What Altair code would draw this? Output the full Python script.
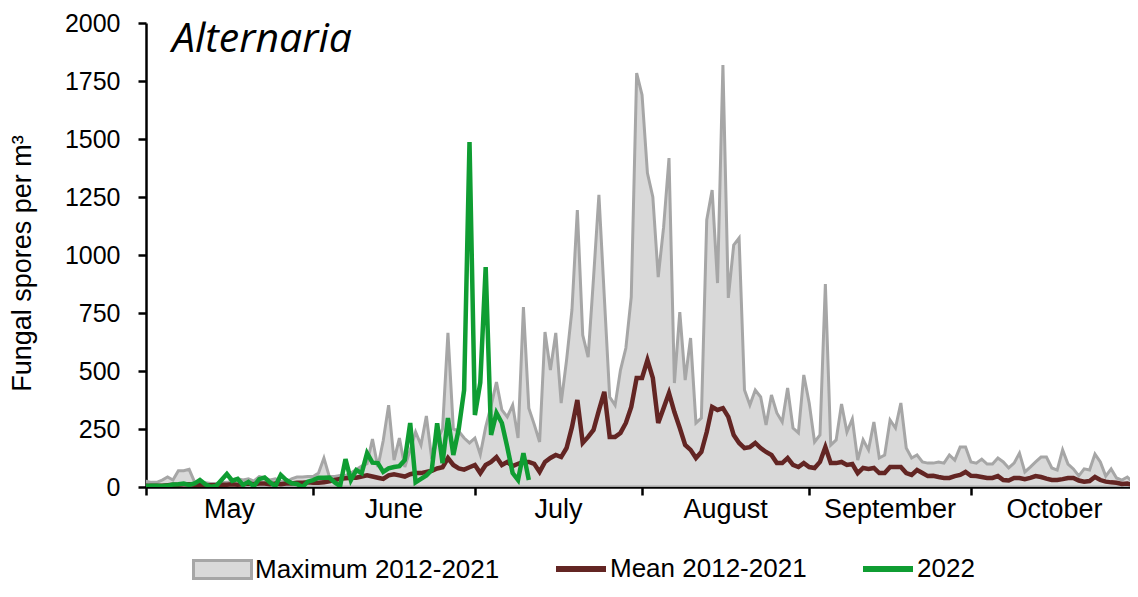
import altair as alt
import pandas as pd

# ---- data ----
month_names = ["May", "June", "July", "August", "September", "October"]
month_starts = [0, 31, 61, 92, 123, 153, 184]

max_2012_2021 = [
    25, 20, 20, 30, 43, 30, 70, 70, 76, 22, 20, 18, 15, 15, 18, 20, 25, 35, 30, 35,
    25, 45, 40, 30, 35, 25, 20, 35, 43, 43, 45,
    45, 60, 125, 45, 45, 50, 50, 60, 75, 90, 100, 207, 86, 200, 353, 116, 211, 86, 160,
    237, 181, 306, 120, 200, 250, 664, 250, 240, 211, 190,
    211, 140, 258, 350, 452, 332, 302, 353, 211, 776, 340, 270, 194, 668, 504, 664, 362,
    547, 763, 1194, 655, 560, 900, 1259, 820, 388, 353, 504, 599, 819, 1784,
    1690, 1353, 1250, 905, 1120, 1418, 448, 754, 461, 642, 276, 297, 1151, 1280, 879,
    1819, 815, 1043, 1073, 418, 353, 418, 388, 267, 397, 319, 280, 427, 254, 233, 483,
    362, 194, 224, 875, 181, 203, 358, 237, 293, 116, 203, 160, 280, 125, 138, 289, 254,
    362, 168, 125, 138, 108, 103, 103, 108, 103, 138, 116, 172, 172,
    108, 103, 120, 99, 99, 125, 108, 82, 103, 146, 65, 86, 108, 129, 129, 82, 73, 160,
    99, 78, 48, 78, 73, 142, 108, 47, 78, 39, 30, 43, 22,
]

mean_2012_2021 = [
    5, 5, 5, 5, 8, 10, 10, 12, 12, 10, 8, 8, 8, 8, 10, 10, 12, 10, 12, 15,
    12, 15, 15, 12, 15, 12, 15, 15, 18, 18, 20,
    18, 18, 20, 25, 30, 35, 38, 40, 40, 45, 50, 45, 40, 35, 50, 55, 50, 45, 55,
    60, 60, 65, 70, 80, 85, 125, 95, 80, 75, 85,
    95, 60, 95, 108, 129, 95, 108, 90, 100, 108, 108, 100, 65, 108, 125, 138, 129,
    168, 258, 375, 190, 216, 246, 330, 410, 216, 216, 233, 276, 345, 470,
    470, 547, 470, 276, 340, 405, 323, 254, 181, 160, 125, 151, 237, 345, 332,
    340, 302, 224, 190, 168, 172, 190, 168, 151, 138, 103, 103, 125, 95, 86, 103,
    86, 82, 108, 172, 103, 103, 108, 95, 99, 60, 82, 78, 82, 60, 60, 86, 86,
    86, 60, 52, 73, 60, 47, 48, 43, 39, 39, 47, 52, 65,
    48, 47, 43, 39, 39, 47, 30, 28, 39, 39, 34, 39, 47, 43, 36, 30, 30, 34,
    39, 39, 28, 23, 26, 43, 30, 23, 20, 18, 13, 15, 9,
]

season_2022 = [
    4, 5, 5, 4, 6, 11, 12, 15, 9, 15,
    30, 12, 1, 4, 30, 56, 27, 35, 9, 22,
    4, 34, 41, 20, 4, 52, 30, 16, 13, 0,
    23, 30, 40, 40, 41, 20, 4, 120, 30, 73,
    60, 146, 105, 103, 65, 80, 86, 90, 116, 276,
    20, 35, 50, 73, 275, 103, 297, 138, 250, 418,
    1487, 310, 450, 948, 224, 319, 276, 172, 60, 30,
    146, 30,
]

y_ticks = [0, 250, 500, 750, 1000, 1250, 1500, 1750, 2000]

# ---- tables ----
df_max = pd.DataFrame({"day": list(range(len(max_2012_2021))), "value": max_2012_2021,
                       "series": "Maximum 2012-2021"})
df_mean = pd.DataFrame({"day": list(range(len(mean_2012_2021))), "value": mean_2012_2021,
                        "series": "Mean 2012-2021"})
df_22 = pd.DataFrame({"day": list(range(len(season_2022))), "value": season_2022,
                      "series": "2022"})
df_months = pd.DataFrame({
    "month": month_names,
    "mid": [(a + b) / 2 for a, b in zip(month_starts[:-1], month_starts[1:])],
})
df_title = pd.DataFrame({"t": ["Alternaria"]})

W, H = 984, 464
X_END = 182.5
FONT = "Liberation Sans"

xscale = alt.Scale(domain=[0, X_END], nice=False, zero=False)
yscale = alt.Scale(domain=[0, 2000], nice=False)

xaxis = alt.Axis(values=month_starts, labels=False, title=None, grid=False,
                 tickSize=8, tickWidth=2.5, tickColor="black",
                 domainColor="black", domainWidth=2.5)
yaxis = alt.Axis(values=y_ticks, format="d", title="Fungal spores per m³", grid=False,
                 tickSize=8, tickWidth=2.5, tickColor="black",
                 domainColor="black", domainWidth=2.5,
                 labelFont=FONT, labelFontSize=25, labelColor="black", labelPadding=18,
                 titleFont=FONT, titleFontSize=27, titleFontWeight="normal",
                 titleColor="black", titlePadding=28, titleY=240, titleAlign="center")

area = alt.Chart(df_max).mark_area(stroke="#a6a6a6", strokeWidth=3, opacity=1,
                                   clip=True).encode(
    x=alt.X("day:Q", scale=xscale, axis=xaxis),
    y=alt.Y("value:Q", scale=yscale, axis=yaxis),
    fill=alt.Fill("series:N",
                  scale=alt.Scale(domain=["Maximum 2012-2021"], range=["#d9d9d9"]),
                  legend=alt.Legend(orient="none", legendX=46, legendY=516, title=None,
                                    symbolType="M-1,-0.31H1V0.31H-1Z", symbolSize=3364,
                                    symbolStrokeColor="#a6a6a6", symbolStrokeWidth=3,
                                    symbolFillColor="#d9d9d9",
                                    labelFont=FONT, labelFontSize=26, labelColor="black",
                                    labelOffset=2, labelLimit=400)),
)

stroke_scale = alt.Scale(domain=["Mean 2012-2021", "2022"], range=["#632523", "#0f9d32"])
stroke_legend = alt.Legend(orient="none", legendX=407, legendY=518, title=None,
                           direction="horizontal", symbolType="stroke", symbolSize=2500,
                           symbolStrokeWidth=6, labelFont=FONT, labelFontSize=26,
                           labelColor="black", labelOffset=1, labelLimit=400,
                           columnPadding=44)

mean_line = alt.Chart(df_mean).mark_line(strokeWidth=4.5, clip=True).encode(
    x=alt.X("day:Q", scale=xscale),
    y=alt.Y("value:Q", scale=yscale),
    stroke=alt.Stroke("series:N", scale=stroke_scale, legend=stroke_legend),
)
line_2022 = alt.Chart(df_22).mark_line(strokeWidth=4.5, clip=True).encode(
    x=alt.X("day:Q", scale=xscale),
    y=alt.Y("value:Q", scale=yscale),
    stroke=alt.Stroke("series:N", scale=stroke_scale, legend=stroke_legend),
)

months = alt.Chart(df_months).mark_text(baseline="alphabetic", align="center",
                                         fontSize=27, font=FONT, color="black").encode(
    x=alt.X("mid:Q", scale=xscale),
    y=alt.value(H + 31),
    text="month:N",
)

title = alt.Chart(df_title).mark_text(align="left", baseline="alphabetic", fontSize=41,
                                      fontStyle="italic", font="Open Sans",
                                      color="black").encode(
    x=alt.value(26),
    y=alt.value(29),
    text="t:N",
)

chart = alt.layer(area, mean_line, line_2022, months, title).properties(
    width=W, height=H,
    autosize=alt.AutoSizeParams(type="none"),
    padding={"left": 138, "top": 15, "right": 0, "bottom": 97},
).configure_view(stroke=None)

chart.save("out.html", embed_options={"renderer": "svg", "actions": False})
